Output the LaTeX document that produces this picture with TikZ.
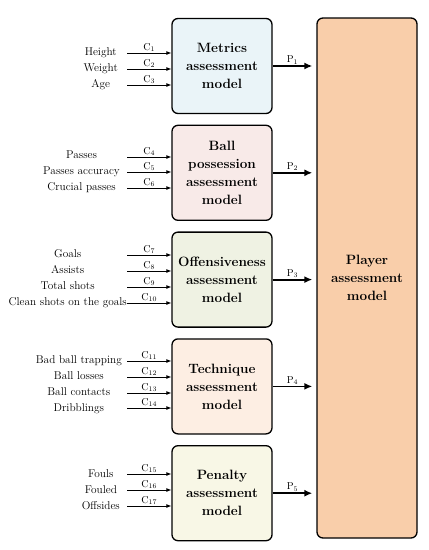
\documentclass[tikz,border=0pt]{standalone}
\usetikzlibrary{positioning,arrows.meta}
\definecolor{paleBlue}{HTML}{EAF4F8}
\definecolor{palePink}{HTML}{F8EAE8}
\definecolor{paleGreen}{HTML}{EFF2E3}
\definecolor{palePeach}{HTML}{FDEEE3}
\definecolor{paleYellow}{HTML}{F8F7E6}
\definecolor{peach}{HTML}{F9CEAA}
\tikzset{
  model/.style={rectangle, rounded corners=6pt, draw=black, line width=1.3pt,
                minimum width=100pt, minimum height=95pt, align=center,
                font=\fontsize{13.5}{18}\selectfont\bfseries, inner sep=2pt},
  playerbox/.style={model, fill=peach, minimum height=520pt},
  inputs/.style={align=center, anchor=east, inner sep=0pt,
                 font=\fontsize{11.3}{16}\selectfont},
  inflow/.style={-{Latex[length=5pt,width=4pt]}, line width=0.8pt},
  outflow/.style={-{Latex[length=8pt,width=7pt]}, line width=1.8pt},
  clabel/.style={above, inner sep=1pt, font=\fontsize{10}{12}\selectfont}
}
\begin{document}
\begin{tikzpicture}[x=1pt, y=-1pt, node distance=10.5pt]
\useasboundingbox (0,0) rectangle (429,550);
% sub-models
\node[model, fill=paleBlue] (m1) at (222,66) {Metrics\\assessment\\model};
\node[model, below=of m1, fill=palePink] (m2) {Ball\\possession\\assessment\\model};
\node[model, below=of m2, fill=paleGreen] (m3) {Offensiveness\\assessment\\model};
\node[model, below=of m3, fill=palePeach] (m4) {Technique\\assessment\\model};
\node[model, below=of m4, fill=paleYellow] (m5) {Penalty\\assessment\\model};
% final model
\node[playerbox] (player) at (367,278) {Player\\assessment\\model};

% criteria
\node[inputs] (g1) at (118,69) {Height\\Weight\\Age};
\node[inputs] (g2) at (120,172) {Passes\\Passes accuracy\\Crucial passes};
\node[inputs] (g3) at (127,279) {Goals\\Assists\\Total shots\\Clean shots on the goals};
\node[inputs] (g4) at (122,385) {Bad ball trapping\\Ball losses\\Ball contacts\\Dribblings};
\node[inputs] (g5) at (120,490) {Fouls\\Fouled\\Offsides};

\foreach \i/\y/\b in {1/53/1, 2/69/1, 3/85/1, 4/157/2, 5/172/2, 6/188/2,
    7/255/3, 8/271/3, 9/287/3, 10/303/3, 11/361/4, 12/377/4, 13/393/4, 14/408/4,
    15/474/5, 16/490/5, 17/506/5}{
  \coordinate (c\i) at (127,\y);
  \draw[inflow] (c\i) -- (c\i -| m\b.west) node[clabel, midway] {$\mathrm{C}_{\i}$};
}

\foreach \b in {1,...,5}{
  \draw[outflow] (m\b.east) -- ([xshift=-4pt]m\b.east -| player.west)
    node[clabel, midway] {$\mathrm{P}_{\b}$};
}
\end{tikzpicture}
\end{document}
